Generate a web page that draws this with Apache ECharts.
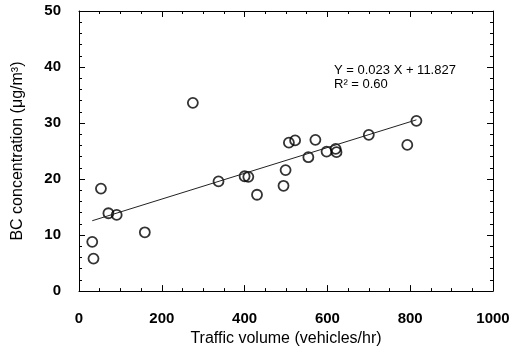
<!DOCTYPE html>
<html>
<head>
<meta charset="utf-8">
<script src="https://cdn.jsdelivr.net/npm/echarts@6/dist/echarts.min.js"></script>
<style>
  html, body { margin: 0; padding: 0; background: #fff; }
  #chart { width: 529px; height: 352px; }
</style>
</head>
<body>
<div id="chart"></div>
<script>
// traffic volume (vehicles/hr) vs BC concentration (ug/m3)
const trafficVolume = [32, 35, 53, 71, 91, 159, 275, 337, 400, 409, 430, 494, 499, 507, 522, 554, 571, 598, 620, 622, 700, 793, 815]
const bcConc = [8.8, 5.8, 18.3, 13.9, 13.6, 10.5, 33.6, 19.6, 20.5, 20.4, 17.2, 18.8, 21.6, 26.5, 26.9, 23.9, 27.0, 24.9, 25.4, 24.8, 27.9, 26.1, 30.4]

// fitted line as printed on the figure
const fitSlope = 0.023
const fitIntercept = 11.827
const fitText = ['Y = 0.023 X + 11.827', 'R\u00b2 = 0.60']

const xTicks = { min: 0, max: 1000, interval: 200 }
const yTicks = { min: 0, max: 50, interval: 10 }

const points = trafficVolume.map((x, i) => [x, bcConc[i]])
const xLo = Math.min(...trafficVolume)
const xHi = Math.max(...trafficVolume)
const fitLine = [[xLo, fitSlope * xLo + fitIntercept], [xHi, fitSlope * xHi + fitIntercept]]

const font = 'Liberation Sans, Arial, sans-serif'

function axisBase(extra) {
  return Object.assign({
    type: 'value',
    axisLine: { show: true, onZero: false, lineStyle: { color: '#000', width: 1 } },
    axisTick: { show: true, inside: true, length: 6, lineStyle: { color: '#000' } },
    minorTick: { show: true, splitNumber: 4, length: 3, lineStyle: { color: '#000' } },
    splitLine: { show: false },
  }, extra)
}

const chart = echarts.init(document.getElementById('chart'), undefined, { renderer: 'canvas' })
chart.setOption({
  backgroundColor: '#fff',
  animation: false,
  grid: { left: 79, right: 36, top: 11, bottom: 56 },
  xAxis: [
    axisBase({
      min: xTicks.min, max: xTicks.max, interval: xTicks.interval,
      name: 'Traffic volume (vehicles/hr)',
      nameLocation: 'middle',
      nameGap: 36,
      nameTextStyle: { color: '#000', fontSize: 16, fontFamily: font },
      axisLabel: {
        color: '#000', fontSize: 15, fontWeight: 'bold', fontFamily: font, margin: 20,
        formatter: v => String(v),
      },
    }),
    axisBase({
      position: 'top',
      min: xTicks.min, max: xTicks.max, interval: xTicks.interval,
      axisLabel: { show: false },
    }),
  ],
  yAxis: [
    axisBase({
      min: yTicks.min, max: yTicks.max, interval: yTicks.interval,
      minorTick: { show: true, splitNumber: 5, length: 3, lineStyle: { color: '#000' } },
      name: 'BC concentration (\u03bcg/m\u00b3)',
      nameLocation: 'middle',
      nameGap: 53,
      nameTextStyle: { color: '#000', fontSize: 16, fontFamily: font },
      axisLabel: { color: '#000', fontSize: 15, fontWeight: 'bold', fontFamily: font, margin: 18 },
    }),
    axisBase({
      position: 'right',
      min: yTicks.min, max: yTicks.max, interval: yTicks.interval,
      minorTick: { show: true, splitNumber: 5, length: 3, lineStyle: { color: '#000' } },
      axisLabel: { show: false },
    }),
  ],
  series: [
    {
      type: 'line',
      data: fitLine,
      symbol: 'none',
      lineStyle: { color: '#222', width: 1 },
      silent: true,
    },
    {
      type: 'scatter',
      data: points,
      symbol: 'circle',
      symbolSize: 10,
      itemStyle: { color: 'rgba(255,255,255,0)', borderColor: '#000', borderWidth: 1.8 },
    },
  ],
  graphic: [
    {
      type: 'text',
      left: 334,
      top: 63,
      style: {
        text: fitText.join('\n'),
        fill: '#000',
        font: '13px ' + font,
        lineHeight: 14,
      },
    },
  ],
})
</script>
</body>
</html>
